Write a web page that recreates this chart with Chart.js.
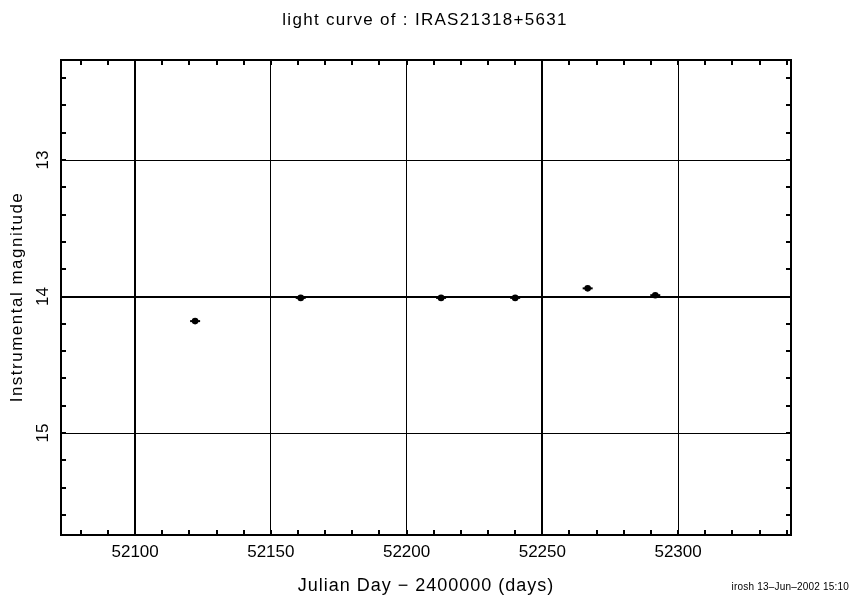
<!DOCTYPE html>
<html>
<head>
<meta charset="utf-8">
<script src="https://cdn.jsdelivr.net/npm/chart.js@4/dist/chart.umd.min.js"></script>
<style>
  body { margin: 0; background: #fff; }
  #wrap { width: 851px; height: 596px; }
</style>
</head>
<body>
<div id="wrap"><canvas id="lc" width="851" height="596"></canvas></div>
<script>
// light curve data (JD - 2400000, instrumental magnitude)
const julianDays = [52122.1, 52161.0, 52212.7, 52240.0, 52266.7, 52291.6];
const magnitudes = [14.18, 14.01, 14.01, 14.01, 13.94, 13.99];

const xTicks = [52100, 52150, 52200, 52250, 52300];
const yTicks = [13, 14, 15];
const boldX = [52100, 52250];
const boldY = [14];

const points = julianDays.map((d, i) => ({ x: d, y: magnitudes[i] }));

const fontFam = '"Liberation Sans", "DejaVu Sans", sans-serif';

// frame, minor ticks and texts
const framePlugin = {
  id: 'frame',
  afterDraw(chart) {
    const ctx = chart.ctx;
    const a = chart.chartArea;
    const xs = chart.scales.x, ys = chart.scales.y;
    ctx.save();
    ctx.strokeStyle = '#000';
    ctx.lineWidth = 2;
    ctx.strokeRect(a.left, a.top, a.right - a.left, a.bottom - a.top);

    // minor ticks, every 10 days / 0.2 mag, inward on all four sides
    ctx.beginPath();
    for (let v = 52080; v <= 52340; v += 10) {
      const px = Math.round(xs.getPixelForValue(v));
      ctx.moveTo(px, a.bottom); ctx.lineTo(px, a.bottom - 5);
      ctx.moveTo(px, a.top); ctx.lineTo(px, a.top + 5);
    }
    for (let k = 62; k <= 78; k++) {
      const v = k / 5;
      const py = Math.round(ys.getPixelForValue(v));
      ctx.moveTo(a.left, py); ctx.lineTo(a.left + 5, py);
      ctx.moveTo(a.right, py); ctx.lineTo(a.right - 5, py);
    }
    ctx.stroke();

    ctx.fillStyle = '#000';
    // y tick labels, rotated
    ctx.font = '17px ' + fontFam;
    ctx.textAlign = 'center';
    ctx.textBaseline = 'middle';
    yTicks.forEach(v => {
      ctx.save();
      ctx.translate(43, ys.getPixelForValue(v));
      ctx.rotate(-Math.PI / 2);
      ctx.fillText(String(v), 0, 0);
      ctx.restore();
    });

    // title
    ctx.font = '17px ' + fontFam;
    ctx.letterSpacing = '1.3px';
    ctx.fillText('light curve of : IRAS21318+5631', 425, 20);

    // axis titles
    ctx.font = '18px ' + fontFam;
    ctx.letterSpacing = '1px';
    ctx.fillText('Julian Day \u2212 2400000 (days)', 426, 586);
    ctx.save();
    ctx.translate(17, 297);
    ctx.rotate(-Math.PI / 2);
    ctx.font = '17px ' + fontFam;
    ctx.letterSpacing = '1.5px';
    ctx.fillText('Instrumental magnitude', 0, 0);
    ctx.restore();

    // footer stamp
    ctx.font = '10px ' + fontFam;
    ctx.letterSpacing = '0.2px';
    ctx.textAlign = 'right';
    ctx.fillText('irosh 13\u2013Jun\u20132002 15:10', 849, 587);
    ctx.restore();
  }
};

new Chart(document.getElementById('lc'), {
  type: 'scatter',
  data: {
    datasets: [
      {
        data: points,
        pointStyle: 'circle',
        pointRadius: 3.3,
        pointBackgroundColor: '#000',
        pointBorderColor: '#000',
        pointBorderWidth: 0
      },
      {
        data: points,
        pointStyle: 'line',
        pointRadius: 5,
        pointBorderColor: '#000',
        pointBorderWidth: 2
      }
    ]
  },
  options: {
    responsive: false,
    animation: false,
    events: [],
    layout: { padding: { left: 0, top: 60, right: 60, bottom: 0 } },
    plugins: {
      legend: { display: false },
      tooltip: { enabled: false },
      title: { display: false }
    },
    scales: {
      x: {
        type: 'linear',
        min: 52072.7,
        max: 52341.6,
        afterFit: s => { s.height = 61; },
        afterBuildTicks: s => { s.ticks = xTicks.map(v => ({ value: v })); },
        grid: {
          color: '#000',
          drawTicks: false,
          lineWidth: c => boldX.includes(c.tick.value) ? 2 : 1
        },
        border: { display: false },
        ticks: {
          color: '#000',
          padding: 7,
          font: { family: fontFam, size: 17 },
          callback: v => String(v)
        }
      },
      y: {
        type: 'linear',
        reverse: true,
        min: 12.267,
        max: 15.747,
        afterFit: s => { s.width = 61; },
        afterBuildTicks: s => { s.ticks = yTicks.map(v => ({ value: v })); },
        grid: {
          color: '#000',
          drawTicks: false,
          lineWidth: c => boldY.includes(c.tick.value) ? 2 : 1
        },
        border: { display: false },
        ticks: { display: false }
      }
    }
  },
  plugins: [framePlugin]
});
</script>
</body>
</html>
